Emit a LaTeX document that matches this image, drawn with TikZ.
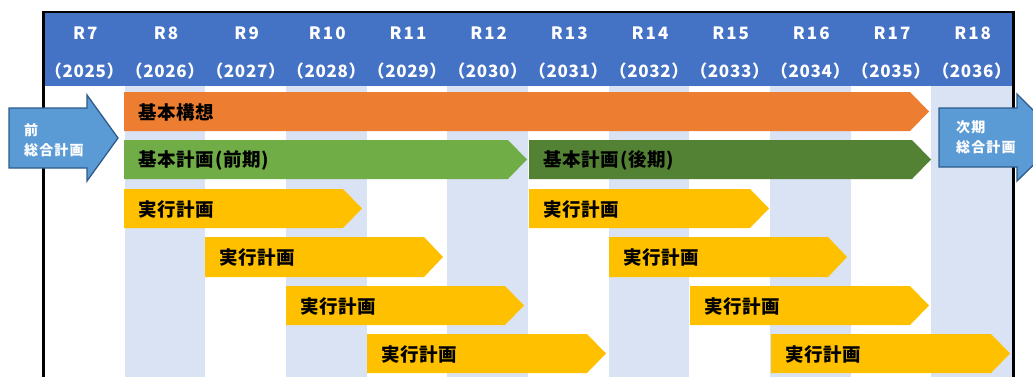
\documentclass[tikz,border=0pt]{standalone}
\usepackage{fontspec}
\newfontfamily\cjk{Noto Sans CJK JP}
\newfontfamily\cjkls{Noto Sans CJK JP}[LetterSpace=12]
\newfontfamily\cjkbar{Noto Sans CJK JP}[LetterSpace=4]
\newfontfamily\cjkarr{Noto Sans CJK JP}[LetterSpace=8]
\newfontfamily\cjkyr{Noto Sans CJK JP}[LetterSpace=4]
\definecolor{hdr}{HTML}{4472C4}
\definecolor{stripe}{HTML}{DAE3F3}
\definecolor{orng}{HTML}{ED7D31}
\definecolor{lgrn}{HTML}{70AD47}
\definecolor{dgrn}{HTML}{548235}
\definecolor{ylw}{HTML}{FFC000}
\definecolor{arrb}{HTML}{5B9BD5}
\definecolor{arrd}{HTML}{2E5C8A}
\newcommand\chevbar[5]{%
  \fill[#1] (#2,#4) -- ({#3-19},#4) -- (#3,{(#4+#5)/2}) -- ({#3-19},#5) -- (#2,#5) -- cycle;}
\begin{document}
\begin{tikzpicture}[x=1pt,y=-1pt,
  hdrlbl/.style={text=white,font=\cjkls\bfseries\fontsize{17}{17}\selectfont,inner sep=0pt},
  yrlbl/.style={text=white,font=\cjkyr\bfseries\fontsize{17}{17}\selectfont,inner sep=0pt},
  barlbl/.style={anchor=west,text=black,font=\cjkbar\bfseries\fontsize{18.5}{18.5}\selectfont,inner sep=0pt},
  arrlbl/.style={anchor=west,text=white,font=\cjkarr\bfseries\fontsize{14}{14}\selectfont,inner sep=0pt},
  bigarrow/.style={fill=arrb,draw=arrd,line width=1.3pt,line join=miter}]
\useasboundingbox (0,0) rectangle (1033,376);
\clip (0,0) rectangle (1033,376);
% stripes
\foreach \i in {1,3,5,7,9,11}{
  \fill[stripe] ({44+80.667*\i},86) rectangle ({44+80.667*(\i+1)},380);
}
% header
\fill[hdr] (44,12) rectangle (1012,86);
\foreach [count=\i from 0] \r/\y in {R7/2025,R8/2026,R9/2027,R10/2028,R11/2029,R12/2030,R13/2031,R14/2032,R15/2033,R16/2034,R17/2035,R18/2036}{
  \node[hdrlbl] (r\i) at ({44+80.667*(\i+0.5)+1},33) {\r};
  \node[yrlbl] (y\i) at ({44+80.667*(\i+0.5)},71) {（\y）};
}
% bars
\chevbar{orng}{124}{929}{92}{131}
\chevbar{lgrn}{124}{527}{140}{179}
\chevbar{dgrn}{529}{931}{140}{179}
\chevbar{ylw}{124}{362}{189}{228}
\chevbar{ylw}{529}{769}{189}{228}
\chevbar{ylw}{205}{443}{237}{277}
\chevbar{ylw}{609}{847}{237}{277}
\chevbar{ylw}{286}{524}{286}{325}
\chevbar{ylw}{690}{929}{286}{325}
\chevbar{ylw}{367}{606}{334}{373}
\chevbar{ylw}{771}{1010}{334}{373}
\node[barlbl] (kk) at (138,112) {基本構想};
\node[barlbl] (kz) at (138,160) {基本計画(前期)};
\node[barlbl] (kg) at (543,160) {基本計画(後期)};
\node[barlbl] (j1) at (138,209) {実行計画};
\node[barlbl] (j5) at (543,209) {実行計画};
\node[barlbl] (j2) at (219,257) {実行計画};
\node[barlbl] (j6) at (623,257) {実行計画};
\node[barlbl] (j3) at (300,306) {実行計画};
\node[barlbl] (j7) at (704,306) {実行計画};
\node[barlbl] (j4) at (381,354) {実行計画};
\node[barlbl] (j8) at (785,354) {実行計画};
% frame
\draw[line width=2.6pt] (43.5,400) -- (43.5,12) -- (1013.5,12) -- (1013.5,400);
% side arrows
\draw[bigarrow] (9,108) -- (87,108) -- (87,95) -- (118,138) -- (87,181) -- (87,168) -- (9,168) -- cycle;
\draw[bigarrow] (939,108) -- (1017,108) -- (1017,94) -- (1061,138) -- (1017,181) -- (1017,167) -- (939,167) -- cycle;
\node[arrlbl] (pa) at (24,130) {前};
\node[arrlbl] (pb) at (24,150) {総合計画};
\node[arrlbl] (na) at (956,127) {次期};
\node[arrlbl] (nb) at (956,147) {総合計画};
\end{tikzpicture}
\end{document}
